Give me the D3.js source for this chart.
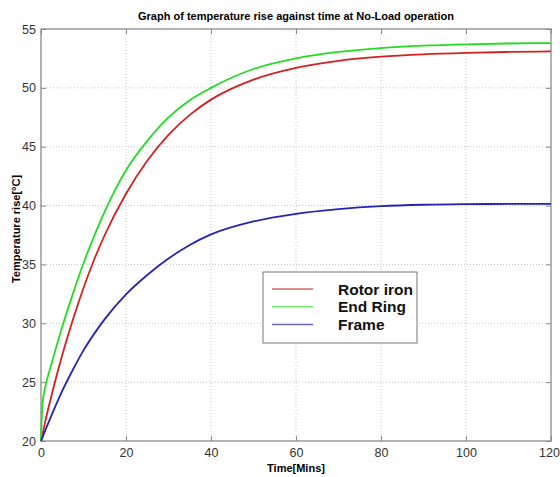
<!DOCTYPE html>
<html>
<head>
<meta charset="utf-8">
<script src="https://cdn.jsdelivr.net/npm/d3@7"></script>
<style>
  body { margin: 0; background: #fff; }
  svg { display: block; font-family: Arial, "Liberation Sans", sans-serif; }
</style>
</head>
<body>
<div id="chart"></div>
<script>
// datos
const times     = [0, 0.25, 0.5, 1, 2.5, 5, 7.5, 10, 12.5, 15, 20, 25, 30, 35, 40, 50, 60, 70, 80, 90, 100, 110, 120];
const rotorIron = [20, 20.4, 20.8, 21.65, 23.9, 27.3, 30.3, 33.0, 35.4, 37.5, 41.0, 43.8, 46.0, 47.7, 49.0, 50.7, 51.7, 52.3, 52.65, 52.85, 52.97, 53.05, 53.1];
const endRing   = [20, 22.6, 23.6, 24.6, 26.6, 29.7, 32.5, 35.1, 37.4, 39.5, 43.0, 45.5, 47.5, 48.95, 50.0, 51.6, 52.5, 53.05, 53.38, 53.58, 53.7, 53.77, 53.8];
const frame     = [20, 20.22, 20.45, 20.9, 22.2, 24.25, 26.05, 27.7, 29.1, 30.35, 32.45, 34.1, 35.5, 36.65, 37.55, 38.65, 39.3, 39.7, 39.95, 40.07, 40.12, 40.14, 40.15];
const seriesNames = ["Rotor iron", "End Ring", "Frame"];
const xTicks = [0, 20, 40, 60, 80, 100, 120];
const yTicks = [20, 25, 30, 35, 40, 45, 50, 55];

const width = 560, height = 477;
const margin = {top: 29, right: 9, bottom: 36, left: 41};

const lineColors   = ["#d42020", "#22dd22", "#2323b8"];
const legendColors = ["#d46b6b", "#6ee66e", "#6a6ab4"];

const svg = d3.select("#chart").append("svg")
  .attr("width", width)
  .attr("height", height);

const x = d3.scaleLinear().domain([0, 120]).range([margin.left, width - margin.right]);
const y = d3.scaleLinear().domain([20, 55]).range([height - margin.bottom, margin.top]);

// rejilla punteada
svg.append("g").selectAll("line").data(xTicks.slice(1, -1)).enter().append("line")
  .attr("x1", d => x(d)).attr("x2", d => x(d))
  .attr("y1", y(20)).attr("y2", y(55))
  .attr("stroke", "#c4c4c4").attr("stroke-dasharray", "1,2");
svg.append("g").selectAll("line").data(yTicks.slice(1, -1)).enter().append("line")
  .attr("y1", d => y(d)).attr("y2", d => y(d))
  .attr("x1", x(0)).attr("x2", x(120))
  .attr("stroke", "#c4c4c4").attr("stroke-dasharray", "1,2");

// ejes con marcas hacia adentro
const axisColor = "#8a8a8a";
function styleAxis(g) {
  g.select(".domain").remove();
  g.selectAll(".tick line").attr("stroke", axisColor);
  g.selectAll(".tick text").attr("fill", "#333").style("font-size", "12.5px");
}
svg.append("g").attr("transform", `translate(0,${y(20)})`)
  .call(d3.axisBottom(x).tickValues(xTicks).tickSizeInner(-5).tickPadding(7))
  .call(styleAxis)
  .call(g => g.selectAll(".tick text").filter(d => d === 120).attr("dx", -2));
svg.append("g").attr("transform", `translate(${x(0)},0)`)
  .call(d3.axisLeft(y).tickValues(yTicks).tickSizeInner(-5).tickPadding(5))
  .call(styleAxis);
svg.append("g").attr("transform", `translate(0,${y(55)})`)
  .call(d3.axisTop(x).tickValues(xTicks).tickSizeInner(-5).tickFormat(""))
  .call(styleAxis);
svg.append("g").attr("transform", `translate(${x(120)},0)`)
  .call(d3.axisRight(y).tickValues(yTicks).tickSizeInner(-5).tickFormat(""))
  .call(styleAxis);

svg.append("rect")
  .attr("x", x(0)).attr("y", y(55))
  .attr("width", x(120) - x(0)).attr("height", y(20) - y(55))
  .attr("fill", "none").attr("stroke", axisColor).attr("stroke-width", 1.3);

// curvas
const series = [rotorIron, endRing, frame];
const line = d3.line()
  .x((d, i) => x(times[i]))
  .y(d => y(d))
  .curve(d3.curveMonotoneX);

svg.append("g").selectAll("path").data(series).enter().append("path")
  .attr("d", d => line(d))
  .attr("fill", "none")
  .attr("stroke", (d, i) => lineColors[i])
  .attr("stroke-width", 1.8);

// titulos
svg.append("text")
  .attr("x", (x(0) + x(120)) / 2).attr("y", 20)
  .attr("text-anchor", "middle")
  .style("font-size", "11px").style("font-weight", "bold")
  .text("Graph of temperature rise against time at No-Load operation");

svg.append("text")
  .attr("x", (x(0) + x(120)) / 2).attr("y", 472)
  .attr("text-anchor", "middle")
  .style("font-size", "11px").style("font-weight", "bold")
  .text("Time[Mins]");

svg.append("text")
  .attr("transform", `translate(20,${(y(20) + y(55)) / 2 - 6}) rotate(-90)`)
  .attr("text-anchor", "middle")
  .style("font-size", "11px").style("font-weight", "bold")
  .text("Temperature rise[°C]");

// leyenda
const legend = svg.append("g");
legend.append("rect")
  .attr("x", 263).attr("y", 272).attr("width", 154).attr("height", 71)
  .attr("fill", "#fff").attr("stroke", "#777").attr("stroke-width", 1);

const item = legend.selectAll("g.item").data(seriesNames).enter().append("g")
  .attr("class", "item")
  .attr("transform", (d, i) => `translate(0,${289 + i * 17.7})`);
item.append("line")
  .attr("x1", 272).attr("x2", 313)
  .attr("stroke", (d, i) => legendColors[i]).attr("stroke-width", 1.5);
item.append("text")
  .attr("x", 338).attr("dy", "0.36em")
  .style("font-size", "15.5px").style("font-weight", "bold")
  .attr("fill", "#111")
  .text(d => d);
</script>
</body>
</html>
